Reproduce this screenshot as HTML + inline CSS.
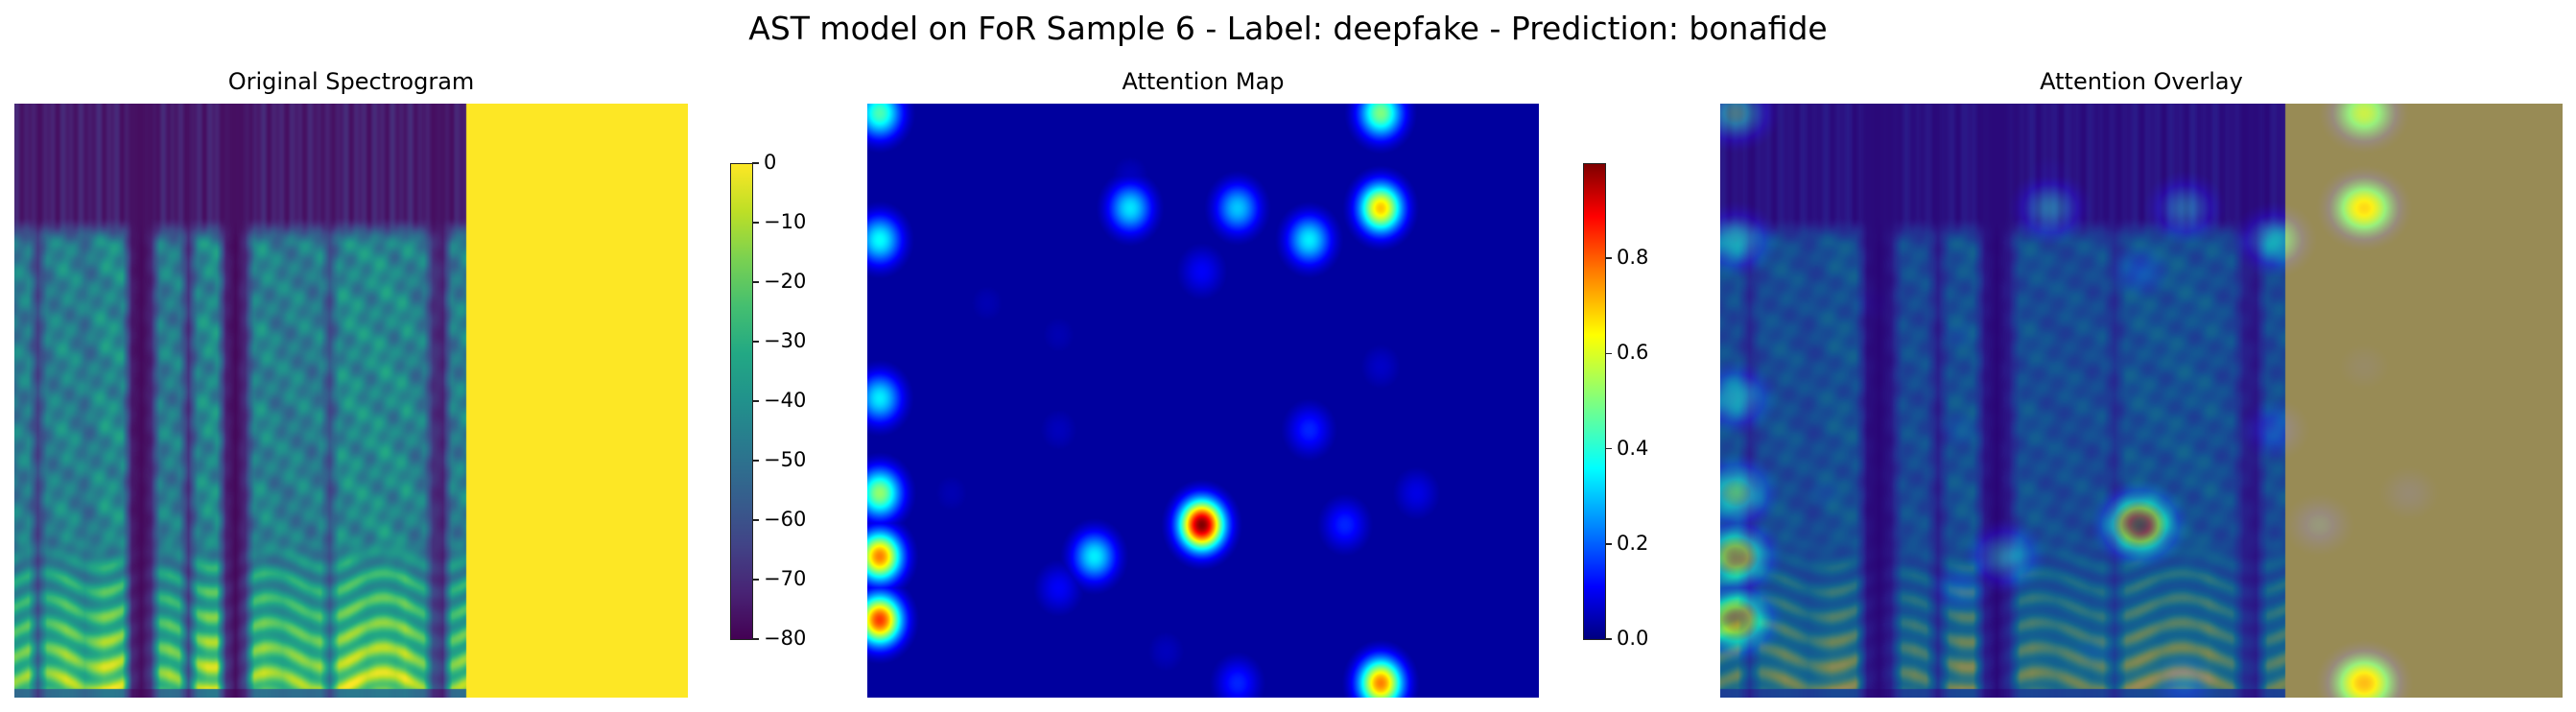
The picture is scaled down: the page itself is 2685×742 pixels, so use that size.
<!DOCTYPE html>
<html><head><meta charset="utf-8">
<style>
body{margin:0;background:#fff;width:2685px;height:742px;position:relative;overflow:hidden;font-family:"DejaVu Sans","Liberation Sans",sans-serif;}
.t{position:absolute;color:#000;white-space:nowrap;}
canvas{position:absolute;}
.cb{position:absolute;border:1.5px solid #222;box-sizing:border-box;}
.tick{position:absolute;height:1.5px;width:7px;background:#222;}
.tl{position:absolute;font-size:21px;line-height:21px;}
</style></head><body>
<div class="t" style="left:0;width:2685px;text-align:center;top:10px;font-size:33px;">AST model on FoR Sample 6 - Label: deepfake - Prediction: bonafide</div>
<div class="t" style="left:15px;width:702px;text-align:center;top:71px;font-size:24px;">Original Spectrogram</div>
<div class="t" style="left:904px;width:700px;text-align:center;top:71px;font-size:24px;">Attention Map</div>
<div class="t" style="left:1793px;width:878px;text-align:center;top:71px;font-size:24px;">Attention Overlay</div>

<canvas id="c1" width="702" height="619" style="left:15px;top:108px"></canvas>
<canvas id="c2" width="700" height="619" style="left:904px;top:108px"></canvas>
<canvas id="c3" width="878" height="619" style="left:1793px;top:108px"></canvas>

<div class="cb" style="left:761px;top:170px;width:24px;height:497px;background:linear-gradient(to top,#440154,#482475,#414487,#355f8d,#2a788e,#21918c,#22a884,#44bf70,#7ad151,#bddf26,#fde725);"></div>
<div class="cb" style="left:1650px;top:170px;width:24px;height:497px;background:linear-gradient(to top,#00007f,#0000ff 11%,#007fff 23%,#00ffff 36%,#7fff7f 50%,#ffff00 64%,#ff7f00 77%,#ff0000 89%,#7f0000);"></div>
<div id="ticks"></div>

<script>
// ---- data ----
const cb1Ticks = [0,-10,-20,-30,-40,-50,-60,-70,-80];
const cb2Ticks = [0.0,0.2,0.4,0.6,0.8];
const attCols = [0,14,0,7,10,14,12,0,9,0,12,0,9,13,6,0,5,0,10,14,3,5,14,5,15,2,8,7];
const attRows = [0,0,4,3,3,3,4,9,5,16,10,12,13,13,14,14,15,16,18,18,6,7,8,10,12,12,17,2];
const attVals = [0.45,0.5,0.38,0.35,0.32,0.68,0.36,0.36,0.12,0.78,0.16,0.52,1.0,0.16,0.36,0.75,0.12,0.82,0.16,0.75,0.05,0.05,0.07,0.06,0.1,0.05,0.06,0.06];
const specActivity = [0.85,0.9,0.4,0.85,0.9,0.95,0.9,0.8,0.9,1,1,0.95,0.15,0.05,0.2,0.85,0.9,0.85,0.3,0.9,1,1,0.2,0.05,0.25,0.9,0.95,0.9,0.85,0.9,0.9,0.85,0.9,0.5,0.95,1,1,0.95,1,1,0.95,1,0.9,0.85,0.3,0.2,0.85,0.9];

// ---- scales ----
const cbTop=170, cbBot=666;
function yCb1(v){return cbBot-(v+80)/80*(cbBot-cbTop);}
function yCb2(v){return cbBot-v/1.0*(cbBot-cbTop);}
const tk=document.getElementById('ticks');
function addTick(x,y,label,name){
  const d=document.createElement('div');d.className='tick';d.style.left=x+'px';d.style.top=(y-0.75)+'px';
  
  
  tk.appendChild(d);
  const l=document.createElement('div');l.className='tl';l.textContent=label;l.style.left=(x+12)+'px';l.style.top=(y-11)+'px';
  
  
  tk.appendChild(l);
}
cb1Ticks.forEach(v=>addTick(784,yCb1(v),v===0?'0':'\u2212'+Math.abs(v),'spectrogram-colorbar'));
cb2Ticks.forEach(v=>addTick(1673,yCb2(v),v.toFixed(1),'attention-colorbar'));

// ---- colormaps ----
const vir=[[68,1,84],[72,36,117],[65,68,135],[53,95,141],[42,120,142],[33,145,140],[34,168,132],[68,191,112],[122,209,81],[189,223,38],[253,231,37]];
function viridis(x){x=Math.max(0,Math.min(1,x));const p=x*10,i=Math.min(9,Math.floor(p)),f=p-i;const a=vir[i],b=vir[i+1];return [a[0]+(b[0]-a[0])*f,a[1]+(b[1]-a[1])*f,a[2]+(b[2]-a[2])*f];}
function cl(v){return Math.max(0,Math.min(1,v));}
function jet(x){return [255*cl(1.5-Math.abs(4*x-3)),255*cl(1.5-Math.abs(4*x-2)),255*cl(1.5-Math.abs(4*x-1))];}
function sm(a,b,x){const t=cl((x-a)/(b-a));return t*t*(3-2*t);}

// spectrogram value in dB at normalized (u,v)
const split=0.671;
function spec(u,v){
  if(u>=split) return 0;
  const t=u/split;
  const n=specActivity.length;const p=t*n-0.5;const i=Math.max(0,Math.min(n-1,Math.floor(p)));const j=Math.min(n-1,i+1);const f=Math.max(0,Math.min(1,p-i));
  const a=specActivity[i]*(1-f)+specActivity[j]*f;
  const top=-77+8*a*(0.5+0.25*Math.sin(t*310)+0.25*Math.sin(t*173+1));
  const tex=Math.sin(v*70+t*40)*Math.sin(t*95+v*25)+0.5*Math.sin(v*140-t*60);
  const mid=-80+a*(38+7*tex);
  const base=40+30*(v-0.75)/0.235;
  const low=-80+a*(base+11*Math.sin(v*150+2.5*Math.sin(t*25)));
  const w1=sm(0.19,0.24,v), w2=sm(0.72,0.8,v);
  let val=top*(1-w1)+(mid*(1-w2)+low*w2)*w1;
  if(v>0.985) val=-80+a*32;
  return Math.max(-80,Math.min(0,val));
}
// attention value at normalized (u,v)
function att(u,v){
  const x=u*700,y=v*619;let m=0.03;
  for(let k=0;k<attVals.length;k++){
    const cx=13+attCols[k]*37.3, cy=10+attRows[k]*33;
    const dx=x-cx, dy=y-cy;
    const g=attVals[k]*Math.exp(-(dx*dx)/(2*16*16)-(dy*dy)/(2*18*18));
    if(g>m)m=g;
  }
  return m;
}
function draw(id,fn){
  const c=document.getElementById(id),ctx=c.getContext('2d'),W=c.width,H=c.height;
  const img=ctx.createImageData(W,H);
  for(let y=0;y<H;y++)for(let x=0;x<W;x++){
    const col=fn((x+0.5)/W,(y+0.5)/H);const o=(y*W+x)*4;
    img.data[o]=col[0];img.data[o+1]=col[1];img.data[o+2]=col[2];img.data[o+3]=255;
  }
  ctx.putImageData(img,0,0);
}
draw('c1',(u,v)=>viridis((spec(u,v)+80)/80));
draw('c2',(u,v)=>jet(att(u,v)));
draw('c3',(u,v)=>{const s=viridis((spec(u,v)+80)/80),h=jet(att(u,v));return [0.6*s[0]+0.4*h[0],0.6*s[1]+0.4*h[1],0.6*s[2]+0.4*h[2]];});
</script>
</body></html>
